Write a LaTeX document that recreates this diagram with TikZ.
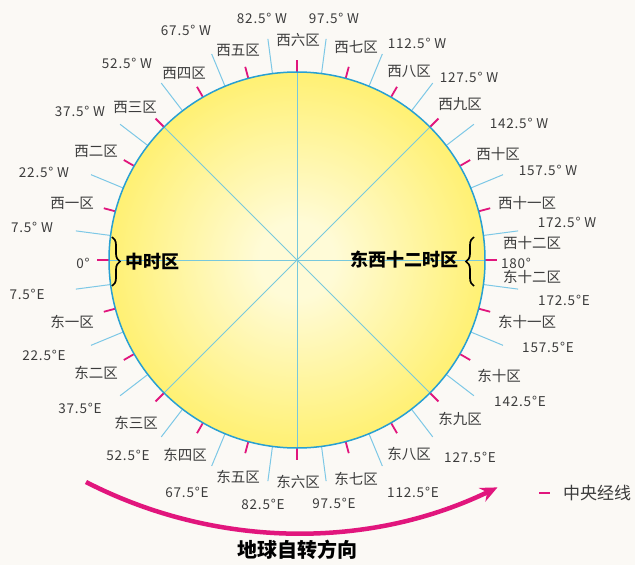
\documentclass[tikz,border=0pt]{standalone}
\usepackage{fontspec}
\setmainfont{Noto Sans CJK SC}
\newfontfamily\lonfont[LetterSpace=6]{Noto Sans CJK SC}
\usetikzlibrary{decorations.pathreplacing,arrows.meta}
\definecolor{bg}{RGB}{251,249,245}
\definecolor{rim}{RGB}{40,160,210}
\definecolor{bnd}{RGB}{125,200,230}
\definecolor{mer}{RGB}{225,22,125}
\definecolor{innerln}{RGB}{120,200,220}
\definecolor{txt}{RGB}{60,60,60}
\definecolor{sunA}{RGB}{255,251,215}
\definecolor{sunB}{RGB}{255,240,110}
\definecolor{sunC}{RGB}{255,228,15}
\pgfdeclareradialshading{sun}{\pgfpoint{0bp}{0bp}}{color(0bp)=(sunA); color(5bp)=(sunA); color(26bp)=(sunB); color(50bp)=(sunC)}
\tikzset{
  zone/.style={font=\fontsize{14.5}{16}\selectfont, text=txt, inner sep=0pt},
  lon/.style={font=\lonfont\fontsize{13.5}{15}\selectfont, text=txt, inner sep=0pt},
  big/.style={font=\bfseries\fontsize{18}{20}\selectfont, text=black, inner sep=0pt},
  merid/.style={draw=mer, line width=1.8pt},
  bound/.style={draw=bnd, line width=1pt},
  diam/.style={draw=innerln, line width=0.9pt},
  bracestyle/.style={decorate, decoration={brace, amplitude=8pt}, line width=1.7pt, draw=black}
}
\begin{document}
\begin{tikzpicture}[x=1pt,y=-1pt]
\useasboundingbox (0,0) rectangle (635,565);
\fill[bg] (0,0) rectangle (635,565);
\coordinate (c) at (297,260);
% ticks
\foreach \k in {0,...,23} {
  \pgfmathsetmacro\a{180-15*\k}
  \pgfmathsetmacro\b{180-7.5-15*\k}
  \draw[merid] ({297+186*cos(\a)},{260-186*sin(\a)}) -- ({297+200*cos(\a)},{260-200*sin(\a)});
  \draw[bound] ({297+186*cos(\b)},{260-186*sin(\b)}) -- ({297+223*cos(\b)},{260-223*sin(\b)});
}
% globe
\fill[shading=sun] (c) circle[radius=188];
\foreach \a in {0,45,90,135} {
  \draw[diam] ({297+188*cos(\a)},{260-188*sin(\a)}) -- ({297-188*cos(\a)},{260+188*sin(\a)});
}
\draw[draw=rim, line width=1.5pt] (c) circle[radius=188];
% longitude labels
\foreach \t/\x/\y [count=\i] in {
  82.5° W/262/18, 97.5° W/334/18, 67.5° W/186/30, 52.5° W/127/63, 37.5° W/80/111,
  22.5° W/44/172, 7.5° W/32/227, 0°/83/263, 7.5°E/27/294, 22.5°E/44/355,
  37.5°E/80/408, 52.5°E/128/455, 67.5°E/187/492, 82.5°E/263/504, 97.5°E/334/503,
  112.5°E/413/492, 127.5°E/470/457, 142.5°E/520/401, 157.5°E/548/347, 172.5°E/564/300,
  180°/516/263, 172.5° W/567/222, 157.5° W/548/170, 142.5° W/519/123, 127.5° W/469/77,
  112.5° W/417/43}
  \node[lon] (lon\i) at (\x,\y) {\t};
% zone labels
\foreach \t/\x/\y [count=\i] in {
  西六区/298/40, 西五区/238/50, 西四区/184/73, 西三区/135/107, 西二区/96/151,
  西一区/72/203, 东一区/72/322, 东二区/96/373, 东三区/136/423, 东四区/185/455,
  东五区/238/477, 东六区/298/482, 东七区/356/479, 东八区/409/454, 东九区/460/419,
  东十区/499/376, 东十一区/527/322, 东十二区/532/277, 西十二区/532/243, 西十一区/527/203,
  西十区/498/154, 西九区/460/104, 西八区/409/71, 西七区/356/47}
  \node[zone] (zone\i) at (\x,\y) {\t};
% braces and bold labels
\coordinate (bl1) at (112,237);
\coordinate (bl2) at (112,286);
\coordinate (br1) at (474,286);
\coordinate (br2) at (474,237);
\draw[bracestyle] (bl1) -- (bl2);
\draw[bracestyle] (br1) -- (br2);
\node[big] (zhong) at (152,262) {中时区};
\node[big] (dongxi) at (404,260) {东西十二时区};
% rotation arrow
\coordinate (arrS) at (86,482);
\draw[draw=mer, line width=4.5pt, -{Stealth[length=17pt,width=15pt]}] (arrS) arc[start angle=117.2, end angle=64.3, radius=462];
\node[font=\bfseries\fontsize{20}{22}\selectfont, inner sep=0pt] (rot) at (297,550) {地球自转方向};
% legend
\coordinate (lg1) at (539,493);
\coordinate (lg2) at (550,493);
\draw[draw=mer, line width=1.5pt] (lg1) -- (lg2);
\node[font=\fontsize{17}{19}\selectfont, text=txt, inner sep=0pt] (legend) at (597,493) {中央经线};
\end{tikzpicture}
\end{document}
